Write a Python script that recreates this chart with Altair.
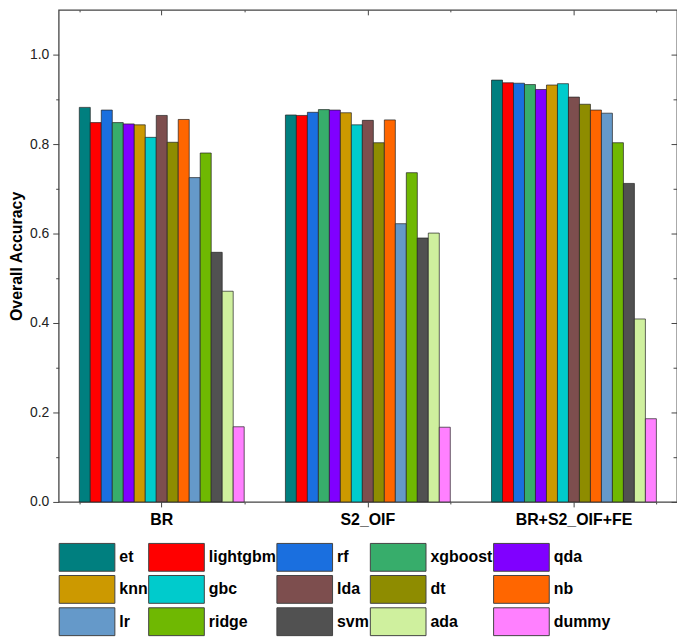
import altair as alt
import pandas as pd

models = ["et", "lightgbm", "rf", "xgboost", "qda", "knn", "gbc", "lda",
          "dt", "nb", "lr", "ridge", "svm", "ada", "dummy"]
groups = ["BR", "S2_OIF", "BR+S2_OIF+FE"]
colors = ["#007f7f", "#ff0000", "#1a6fdf", "#37ad6b", "#8000ff", "#cc9900",
          "#00cbcc", "#7d4e4e", "#8e8c00", "#ff6600", "#6599c9", "#6fb802",
          "#515151", "#cff09e", "#ff80ff"]

acc_br = [0.882, 0.848, 0.876, 0.848, 0.845, 0.843, 0.815, 0.864, 0.804,
          0.855, 0.725, 0.780, 0.558, 0.471, 0.168]
acc_s2 = [0.865, 0.864, 0.871, 0.877, 0.876, 0.870, 0.843, 0.853, 0.803,
          0.854, 0.622, 0.736, 0.590, 0.601, 0.167]
acc_fe = [0.943, 0.937, 0.936, 0.933, 0.922, 0.932, 0.935, 0.905, 0.889,
          0.876, 0.869, 0.803, 0.712, 0.409, 0.186]

y_major = [0.0, 0.2, 0.4, 0.6, 0.8, 1.0]
y_minor = [0.1, 0.3, 0.5, 0.7, 0.9]

rows = []
for g, vals in zip(groups, [acc_br, acc_s2, acc_fe]):
    for m, v in zip(models, vals):
        rows.append({"group": g, "model": m, "acc": v})
df = pd.DataFrame(rows)

W, H = 622, 495
FONT = "Liberation Sans"
TICK = "#444"

xscale = alt.Scale(paddingInner=0.2, paddingOuter=0.1)
yscale = alt.Scale(domain=[0, 1.1], nice=False, zero=True)

base = alt.Chart(df)

bars = base.mark_bar(stroke="#222", strokeWidth=1, strokeOpacity=0.7).encode(
    x=alt.X("group:N", sort=groups, scale=xscale,
            axis=alt.Axis(title=None, labelAngle=0, labelFont=FONT,
                          labelFontSize=16, labelFontWeight="bold",
                          labelColor="#000", tickSize=5, tickColor=TICK,
                          labelPadding=5, domain=False, grid=False)),
    xOffset=alt.XOffset("model:N", sort=models,
                        scale=alt.Scale(paddingInner=0, paddingOuter=0)),
    y=alt.Y("acc:Q", scale=yscale,
            axis=alt.Axis(title="Overall Accuracy", values=y_major, format=".1f",
                          labelFont=FONT, labelFontSize=14, labelColor="#222",
                          titleFont=FONT, titleFontSize=16, titleFontWeight="bold",
                          titleColor="#000", titlePadding=5, tickSize=6,
                          tickColor=TICK, labelPadding=4, domain=False, grid=False)),
    color=alt.Color("model:N",
                    scale=alt.Scale(domain=models, range=colors),
                    legend=alt.Legend(orient="none", legendX=0, legendY=536,
                                      direction="horizontal", columns=5,
                                      title=None, symbolType="M-1,-1H3V1H-1Z",
                                      symbolSize=784, symbolStrokeColor="#444",
                                      symbolStrokeWidth=1, symbolOpacity=1,
                                      labelFont=FONT, labelFontSize=16,
                                      labelFontWeight="bold", labelColor="#000",
                                      labelOffset=32, rowPadding=-0.5,
                                      columnPadding=-2, gridAlign="each",
                                      padding=0, offset=0)),
)

layer_minor = base.mark_bar(opacity=0).encode(
    x=alt.X("group:N", sort=groups, scale=xscale,
            axis=alt.Axis(title=None, labels=False, tickBand="extent",
                          tickSize=2, tickColor=TICK, domain=False,
                          grid=False, orient="bottom")),
    y=alt.Y("acc:Q", scale=yscale,
            axis=alt.Axis(title=None, labels=False, values=y_minor,
                          tickSize=3, tickColor=TICK, domain=False,
                          grid=False, orient="left")),
)

layer_in = base.mark_bar(opacity=0).encode(
    x=alt.X("group:N", sort=groups, scale=xscale,
            axis=alt.Axis(title=None, labels=False, tickSize=5,
                          tickColor=TICK, domain=False, grid=False,
                          orient="bottom", offset=-H)),
    y=alt.Y("acc:Q", scale=yscale,
            axis=alt.Axis(title=None, labels=False, values=y_major,
                          tickSize=6, tickColor=TICK, domain=False,
                          grid=False, orient="left", offset=-W)),
)

layer_in_minor = base.mark_bar(opacity=0).encode(
    x=alt.X("group:N", sort=groups, scale=xscale,
            axis=alt.Axis(title=None, labels=False, tickBand="extent",
                          tickSize=2, tickColor=TICK, domain=False,
                          grid=False, orient="bottom", offset=-H)),
    y=alt.Y("acc:Q", scale=yscale,
            axis=alt.Axis(title=None, labels=False, values=y_minor,
                          tickSize=4, tickColor=TICK, domain=False,
                          grid=False, orient="left", offset=-W)),
)

chart = alt.layer(bars, layer_minor, layer_in, layer_in_minor).resolve_axis(
    x="independent", y="independent"
).properties(
    width=W, height=H,
    autosize=alt.AutoSizeParams(type="none"),
    padding={"left": 51, "top": 0, "right": 0, "bottom": 134},
).configure_view(
    stroke="#444", strokeWidth=1.3
)

chart.save("out.html", embed_options={"renderer": "svg", "actions": False})
